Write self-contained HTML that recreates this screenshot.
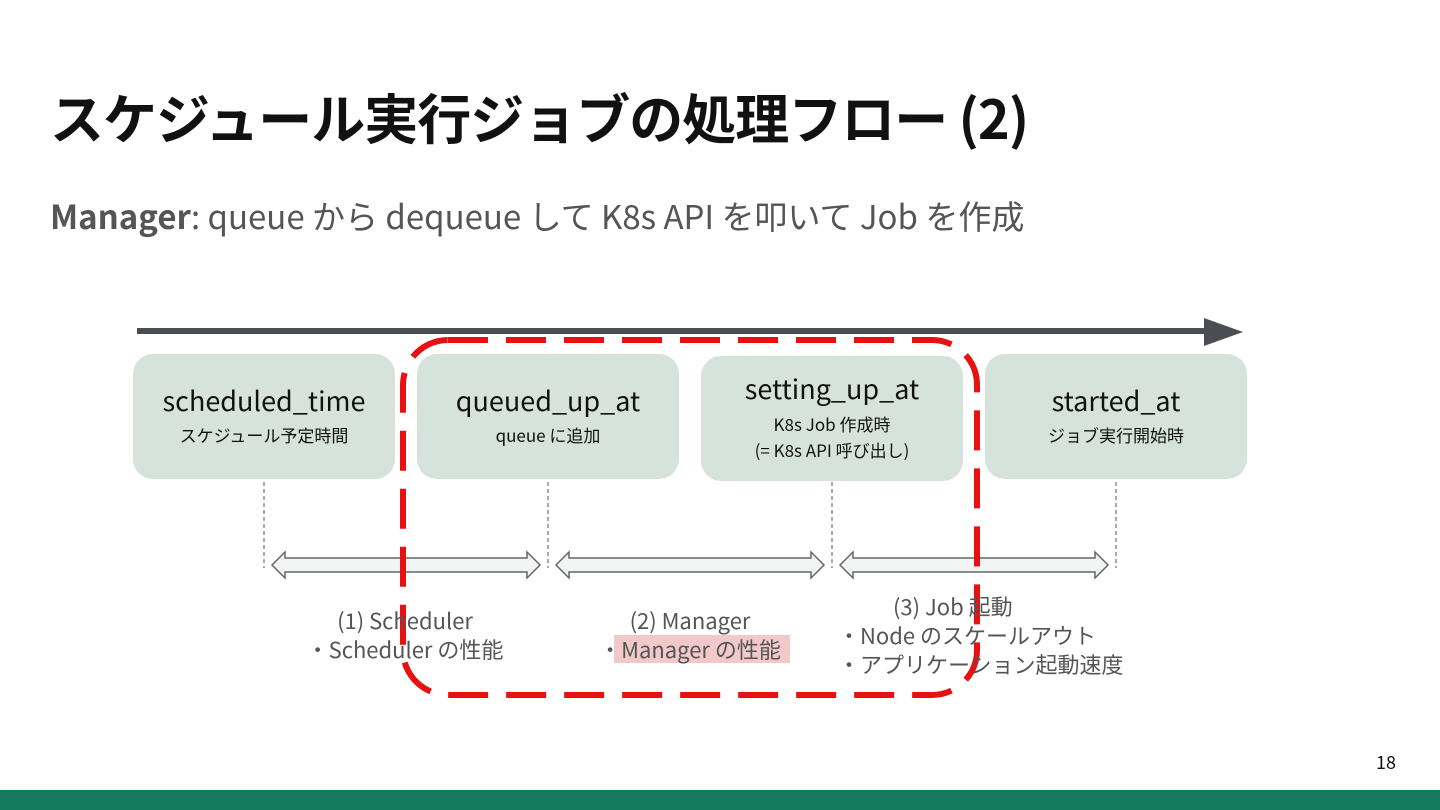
<!DOCTYPE html>
<html><head><meta charset="utf-8"><style>
body{margin:0;width:1440px;height:810px;overflow:hidden;background:#fff;font-family:"Noto Sans CJK JP","Liberation Sans",sans-serif;position:relative}
.a{position:absolute;white-space:nowrap;line-height:1.2}
</style></head><body>
<div class="a" style="left:50px;top:84px;font-size:54px;font-weight:bold;color:#111;letter-spacing:-1px">スケジュール実行ジョブの処理フロー (2)</div>
<div class="a" style="left:50px;top:196px;font-size:33px;color:#555"><b>Manager</b>: queue から dequeue して K8s API を叩いて Job を作成</div>
<svg class="a" style="left:0;top:0" width="1440" height="810">
<line x1="137" y1="331" x2="1210" y2="331" stroke="#4a4d52" stroke-width="6"/>
<polygon points="1204,318 1243,332 1204,346" fill="#4a4d52"/>
<g fill="#d5e3dc">
<rect x="133" y="354" width="262" height="125" rx="20"/>
<rect x="417" y="354" width="262" height="125" rx="20"/>
<rect x="701" y="356" width="262" height="125" rx="20"/>
<rect x="985" y="354" width="262" height="125" rx="20"/>
</g>
<g stroke="#555" stroke-width="1" stroke-dasharray="4,3">
<line x1="264" y1="482" x2="264" y2="568"/><line x1="548" y1="482" x2="548" y2="568"/>
<line x1="832" y1="482" x2="832" y2="568"/><line x1="1116" y1="482" x2="1116" y2="568"/>
</g>
<g fill="#f3f5f5" stroke="#666" stroke-width="1.5">
<polygon points="272,565 285,552 285,558 527,558 527,552 540,565 527,578 527,572 285,572 285,578"/>
<polygon points="556,565 569,552 569,558 811,558 811,552 824,565 811,578 811,572 569,572 569,578"/>
<polygon points="840,565 853,552 853,558 1095,558 1095,552 1108,565 1095,578 1095,572 853,572 853,578"/>
</g>
<rect x="614" y="635" width="176" height="28" fill="#f2c9c9"/>
<rect x="403" y="340" width="574" height="355" rx="45" fill="none" stroke="#e81010" stroke-width="6" stroke-dasharray="40,18"/>
</svg>
<div class="a" style="left:133px;top:384px;width:262px;text-align:center;font-size:27px;color:#111">scheduled_time</div>
<div class="a" style="left:133px;top:425px;width:262px;text-align:center;font-size:17px;color:#111">スケジュール予定時間</div>
<div class="a" style="left:417px;top:384px;width:262px;text-align:center;font-size:27px;color:#111">queued_up_at</div>
<div class="a" style="left:417px;top:425px;width:262px;text-align:center;font-size:17px;color:#111">queue に追加</div>
<div class="a" style="left:701px;top:372px;width:262px;text-align:center;font-size:27px;color:#111">setting_up_at</div>
<div class="a" style="left:701px;top:411px;width:262px;text-align:center;font-size:17px;color:#111;line-height:26px">K8s Job 作成時<br>(= K8s API 呼び出し)</div>
<div class="a" style="left:985px;top:384px;width:262px;text-align:center;font-size:27px;color:#111">started_at</div>
<div class="a" style="left:985px;top:425px;width:262px;text-align:center;font-size:17px;color:#111">ジョブ実行開始時</div>
<div class="a" style="left:295px;top:606px;width:220px;text-align:center;font-size:22px;color:#555;line-height:29px">(1) Scheduler<br>・Scheduler の性能</div>
<div class="a" style="left:590px;top:606px;width:200px;text-align:center;font-size:22px;color:#555;line-height:29px">(2) Manager<br>・Manager の性能</div>
<div class="a" style="left:838px;top:592px;font-size:22px;color:#555;line-height:29px"><span style="padding-left:55px">(3) Job 起動</span><br>・Node のスケールアウト<br>・アプリケーション起動速度</div>
<div class="a" style="left:1376px;top:752px;font-size:18px;color:#111">18</div>
<div class="a" style="left:0;top:790px;width:1440px;height:20px;background:#167a5e"></div>
</body></html>
